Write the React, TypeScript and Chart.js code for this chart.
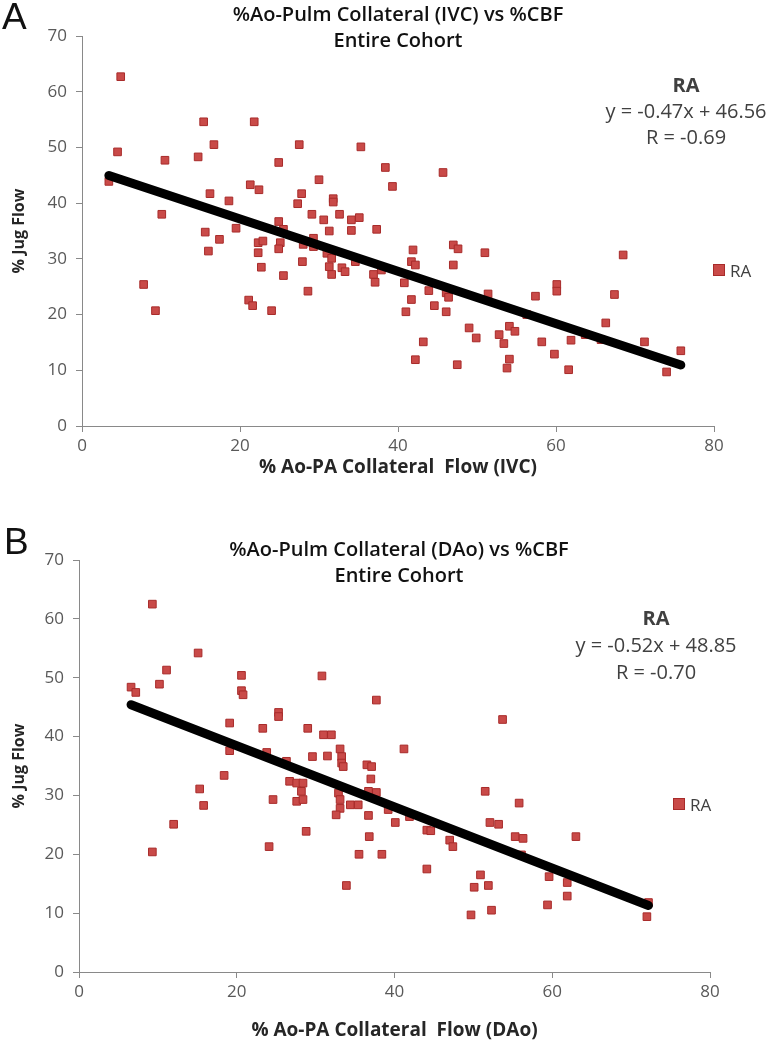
import React, { useEffect, useRef } from "react";
import { Chart, registerables } from "chart.js";

Chart.register(...registerables);

// ---------- data ----------
const xTickValues = [0, 20, 40, 60, 80];
const yTickValues = [0, 10, 20, 30, 40, 50, 60, 70];
const seriesName = "RA";

const ivcX = [
  3.4, 4.5, 4.9, 7.8, 9.3, 10.1, 10.5, 14.7, 15.4, 15.6, 16.0, 16.2, 16.7, 17.4, 18.6, 19.5,
  21.1, 21.6, 21.3, 21.8, 22.4, 22.3, 22.3, 22.9, 22.7, 24.0, 24.9, 24.9, 25.1, 24.9, 25.5, 25.5,
  27.3, 27.5, 27.8, 27.9, 28.0, 28.6, 29.1, 29.3, 29.3, 30.0, 30.6, 31.0, 31.3, 31.6, 31.3, 31.6,
  31.8, 31.8, 32.6, 32.9, 33.3, 34.1, 35.1, 34.1, 34.6, 35.3, 36.9, 37.1, 37.3, 37.9, 38.4, 39.3,
  40.8, 41.0, 41.7, 41.7, 41.9, 42.2, 42.2, 43.2, 43.9, 44.6, 45.7, 46.1, 46.4, 46.1, 47.0, 47.6,
  47.0, 47.5, 49.0, 49.9, 51.0, 51.4, 52.8, 53.4, 54.1, 54.8, 54.1, 53.8, 56.3, 57.4, 58.2, 59.8,
  60.1, 60.1, 61.6, 61.9, 63.7, 65.7, 66.3, 67.4, 68.5, 71.2, 74.0, 75.8,
];
const ivcY = [
  43.9, 49.2, 62.7, 25.4, 20.7, 38.0, 47.7, 48.3, 54.6, 34.8, 31.4, 41.7, 50.5, 33.5, 40.4, 35.5,
  22.6, 21.6, 43.3, 54.6, 42.4, 32.9, 31.1, 33.2, 28.5, 20.7, 47.3, 36.7, 32.9, 31.8, 27.0, 35.3,
  39.9, 50.5, 41.7, 29.5, 32.6, 24.2, 38.0, 33.7, 32.2, 44.2, 37.0, 31.0, 35.0, 30.1, 28.6, 27.2,
  40.8, 40.2, 38.0, 28.4, 27.7, 37.0, 37.4, 35.1, 29.5, 50.1, 27.2, 25.8, 35.3, 28.0, 46.4, 43.0,
  25.7, 20.5, 22.7, 29.5, 31.6, 28.9, 11.9, 15.1, 24.3, 21.6, 45.5, 23.9, 23.1, 20.5, 32.5, 31.8,
  28.9, 11.0, 17.6, 15.8, 31.1, 23.7, 16.4, 14.8, 17.9, 17.0, 12.0, 10.4, 20.0, 23.3, 15.1, 12.9,
  25.4, 24.2, 10.1, 15.4, 16.4, 15.5, 18.5, 23.6, 30.7, 15.1, 9.7, 13.5,
];
const ivcSlope = -0.47;
const ivcIntercept = 46.56;
const ivcR = -0.69;

const daoX = [
  6.6, 7.2, 9.3, 9.3, 10.2, 11.1, 12.0, 15.1, 15.3, 15.8, 18.4, 19.1, 19.1, 20.6, 20.6, 20.8,
  23.3, 23.8, 24.1, 24.6, 25.3, 25.3, 26.3, 26.7, 27.6, 28.2, 27.6, 28.4, 28.8, 29.0, 29.6, 28.4,
  30.8, 31.0, 32.0, 31.5, 33.1, 33.3, 33.3, 33.5, 32.9, 33.1, 34.4, 35.4, 33.1, 32.6, 33.9, 35.5,
  36.5, 37.1, 37.0, 36.7, 37.7, 36.7, 36.8, 37.7, 38.4, 39.2, 40.1, 41.2, 41.9, 44.1, 44.6, 44.1,
  47.0, 47.4, 49.7, 50.1, 50.9, 51.5, 51.9, 52.1, 52.3, 53.2, 53.7, 55.3, 55.8, 56.3, 56.1, 59.4,
  59.6, 61.9, 61.9, 63.0, 72.0, 72.2,
];
const daoY = [
  48.4, 47.5, 62.5, 20.4, 48.9, 51.3, 25.1, 54.2, 31.1, 28.3, 33.4, 42.3, 37.6, 50.4, 47.8, 47.1,
  41.4, 37.3, 21.3, 29.3, 44.1, 43.4, 35.8, 32.4, 32.1, 30.7, 29.0, 29.3, 23.9, 41.4, 36.6, 32.1,
  50.3, 40.3, 40.3, 36.7, 37.9, 36.6, 35.5, 34.9, 30.4, 29.3, 28.4, 28.4, 27.8, 26.7, 14.7, 20.0,
  35.2, 34.9, 32.8, 30.7, 30.5, 26.6, 23.0, 46.2, 20.0, 27.6, 25.4, 37.9, 26.4, 24.1, 24.0, 17.5,
  22.4, 21.3, 9.7, 14.4, 16.5, 30.7, 14.7, 25.4, 10.5, 25.1, 42.9, 23.0, 28.7, 22.7, 19.9, 11.4,
  16.2, 15.2, 12.9, 23.0, 9.4, 11.8,
];
const daoSlope = -0.52;
const daoIntercept = 48.85;
const daoR = -0.7;

// ---------- styling ----------
const FONT = "'Open Sans', 'Noto Sans', sans-serif";
const POINT_FILL = "#C94A48";
const POINT_EDGE = "#A82B2A";
const AXIS_COLOR = "#898989";
const TICK_TEXT = "#595959";

type Area = { left: number; right: number; top: number; bottom: number };

type PanelProps = {
  xs: number[];
  ys: number[];
  slope: number;
  intercept: number;
  xTitle: string;
  width: number;
  height: number;
  area: Area;
  xTitlePad: number;
};

function ScatterPanel(props: PanelProps) {
  const ref = useRef<HTMLCanvasElement | null>(null);
  useEffect(() => {
    const { xs, ys, slope, intercept, xTitle, width, height, area, xTitlePad } = props;
    if (!ref.current) return;
    const points = xs.map((x, i) => ({ x, y: ys[i] }));
    const minX = Math.min(...xs);
    const maxX = Math.max(...xs);
    const trend = [
      { x: minX, y: slope * minX + intercept },
      { x: maxX, y: slope * maxX + intercept },
    ];
    const chart = new Chart(ref.current, {
      type: "scatter",
      data: {
        datasets: [
          {
            type: "line",
            label: "Linear (RA)",
            data: trend,
            borderColor: "#000000",
            borderWidth: 9,
            borderCapStyle: "round",
            pointRadius: 0,
            showLine: true,
            fill: false,
            order: 0,
          } as any,
          {
            label: seriesName,
            data: points,
            pointStyle: "rect",
            pointRadius: 5.4,
            backgroundColor: POINT_FILL,
            borderColor: POINT_EDGE,
            borderWidth: 1,
            order: 1,
          },
        ],
      },
      options: {
        responsive: false,
        animation: false,
        devicePixelRatio: 1,
        layout: {
          padding: { left: 0, top: area.top, right: width - area.right, bottom: 0 },
        },
        plugins: {
          legend: { display: false },
          tooltip: { enabled: false },
          title: { display: false },
        },
        scales: {
          x: {
            type: "linear",
            min: 0,
            max: 80,
            afterBuildTicks: (s: any) => {
              s.ticks = xTickValues.map((v) => ({ value: v }));
            },
            afterFit: (s: any) => {
              s.height = height - area.bottom;
            },
            grid: {
              display: true,
              drawOnChartArea: false,
              drawTicks: true,
              tickLength: 6,
              color: AXIS_COLOR,
            },
            border: { display: true, color: AXIS_COLOR, width: 1 },
            ticks: {
              font: { family: FONT, size: 17 },
              color: TICK_TEXT,
              padding: 4,
              maxRotation: 0,
            },
            title: {
              display: true,
              text: xTitle,
              font: { family: FONT, size: 19, weight: "bold" },
              color: "#262626",
              padding: { top: 0, bottom: xTitlePad },
            },
          },
          y: {
            type: "linear",
            min: 0,
            max: 70,
            afterBuildTicks: (s: any) => {
              s.ticks = yTickValues.map((v) => ({ value: v }));
            },
            afterFit: (s: any) => {
              s.width = area.left;
            },
            grid: {
              display: true,
              drawOnChartArea: false,
              drawTicks: true,
              tickLength: 6,
              color: AXIS_COLOR,
            },
            border: { display: true, color: AXIS_COLOR, width: 1 },
            ticks: {
              font: { family: FONT, size: 17 },
              color: TICK_TEXT,
              padding: 9,
            },
            title: {
              display: true,
              text: "% Jug Flow",
              font: { family: FONT, size: 16, weight: "bold" },
              color: "#262626",
              padding: { top: 10, bottom: 0 },
            },
          },
        },
      },
    });
    return () => chart.destroy();
  }, []);
  return (
    <canvas
      ref={ref}
      width={props.width}
      height={props.height}
      style={{ display: "block", width: props.width, height: props.height }}
    />
  );
}

const abs = (extra: React.CSSProperties): React.CSSProperties => ({
  position: "absolute",
  margin: 0,
  whiteSpace: "nowrap",
  ...extra,
});

function TextBlock(p: {
  cx: number;
  top: number;
  lines: string[];
  boldFirst?: boolean;
  size: number;
  lh: number;
  color: string;
  weight?: number;
}) {
  return (
    <div
      style={abs({
        left: p.cx - 200,
        width: 400,
        top: p.top,
        textAlign: "center",
        fontFamily: FONT,
        fontSize: p.size,
        lineHeight: `${p.lh}px`,
        color: p.color,
        fontWeight: p.weight ?? 400,
      })}
    >
      {p.lines.map((l, i) => (
        <div key={i} style={{ fontWeight: p.boldFirst && i === 0 ? 700 : undefined }}>
          {l}
        </div>
      ))}
    </div>
  );
}

function Legend(p: { x: number; y: number }) {
  return (
    <div style={abs({ left: p.x - 6, top: p.y - 11, height: 22, display: "flex", alignItems: "center" })}>
      <span
        style={{
          display: "inline-block",
          width: 10,
          height: 10,
          background: POINT_FILL,
          border: `1px solid ${POINT_EDGE}`,
        }}
      />
      <span style={{ marginLeft: 5, fontFamily: FONT, fontSize: 17, color: "#404040" }}>{seriesName}</span>
    </div>
  );
}

const fmtEq = (m: number, b: number) => `y = ${m.toFixed(2)}x + ${b.toFixed(2)}`;
const fmtR = (r: number) => `R = ${r.toFixed(2)}`;

export default function App() {
  return (
    <div style={{ position: "absolute", left: 0, top: 0, width: 772, height: 1050, background: "#fff", overflow: "hidden" }}>
      {/* Panel A */}
      <div style={abs({ left: 0, top: 0 })}>
        <ScatterPanel
          xs={ivcX}
          ys={ivcY}
          slope={ivcSlope}
          intercept={ivcIntercept}
          xTitle="% Ao-PA Collateral  Flow (IVC)"
          width={772}
          height={490}
          area={{ left: 82, right: 714, top: 36, bottom: 426 }}
          xTitlePad={11}
        />
      </div>
      <div style={abs({ left: 2, top: -4, fontFamily: "'Liberation Sans', Arial, sans-serif", fontSize: 37, lineHeight: "42px", color: "#111" })}>A</div>
      <TextBlock cx={398} top={1} lines={["%Ao-Pulm Collateral  (IVC) vs %CBF", "Entire Cohort"]} size={20} lh={26} color="#111" weight={600} />
      <TextBlock cx={686} top={72} lines={[seriesName, fmtEq(ivcSlope, ivcIntercept), fmtR(ivcR)]} boldFirst size={20} lh={26} color="#404040" />
      <Legend x={719} y={270} />

      {/* Panel B */}
      <div style={abs({ left: 0, top: 495 })}>
        <ScatterPanel
          xs={daoX}
          ys={daoY}
          slope={daoSlope}
          intercept={daoIntercept}
          xTitle="% Ao-PA Collateral  Flow (DAo)"
          width={772}
          height={555}
          area={{ left: 79, right: 710, top: 65, bottom: 477 }}
          xTitlePad={8}
        />
      </div>
      <div style={abs({ left: 4, top: 521, fontFamily: "'Liberation Sans', Arial, sans-serif", fontSize: 37, lineHeight: "42px", color: "#111" })}>B</div>
      <TextBlock cx={399} top={536} lines={["%Ao-Pulm Collateral (DAo) vs %CBF", "Entire Cohort"]} size={20} lh={26} color="#111" weight={600} />
      <TextBlock cx={656} top={604} lines={[seriesName, fmtEq(daoSlope, daoIntercept), fmtR(daoR)]} boldFirst size={20} lh={27} color="#404040" />
      <Legend x={679} y={804} />
    </div>
  );
}
